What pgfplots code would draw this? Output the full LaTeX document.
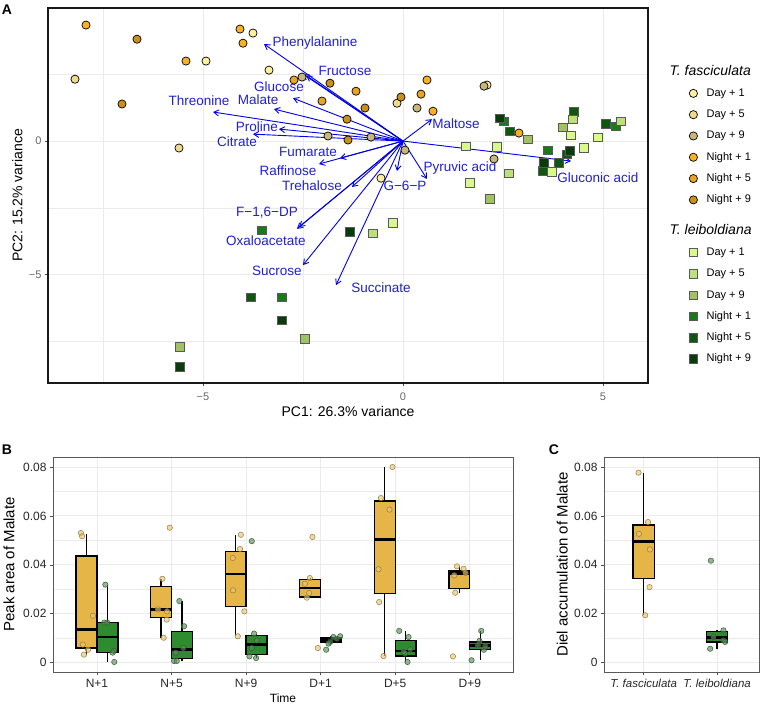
\documentclass[border=0pt]{standalone}
\usepackage{pgfplots}
\pgfplotsset{compat=1.18}
\usepgfplotslibrary{statistics}
\usetikzlibrary{arrows.meta}
\usepackage{fontspec}
\setmainfont{Liberation Sans}

\definecolor{gridc}{HTML}{EBEBEB}
\definecolor{tfDa}{HTML}{FFEF9E}
\definecolor{tfDb}{HTML}{F2DA8C}
\definecolor{tfDc}{HTML}{C8B67C}
\definecolor{tfNa}{HTML}{FAB11F}
\definecolor{tfNb}{HTML}{E8A520}
\definecolor{tfNc}{HTML}{C9901A}
\definecolor{tlDa}{HTML}{D9F98C}
\definecolor{tlDb}{HTML}{BEE07C}
\definecolor{tlDc}{HTML}{A0C263}
\definecolor{tlNa}{HTML}{187A18}
\definecolor{tlNb}{HTML}{0E570E}
\definecolor{tlNc}{HTML}{0A3B0A}
\definecolor{arrowc}{HTML}{0000E6}
\definecolor{labc}{HTML}{2020CC}
\definecolor{boxY}{HTML}{E6B548}
\definecolor{boxG}{HTML}{2E8B2E}
\definecolor{ptY}{HTML}{E2C77C}
\definecolor{ptYd}{HTML}{9C7A30}
\definecolor{ptG}{HTML}{5E8E5E}
\definecolor{ptGd}{HTML}{2E5A2E}

\tikzset{pcl/.style={font=\fontsize{13.5}{15}\selectfont, text=labc, inner sep=0pt}}
\pgfplotsset{
  circ/.style={only marks, mark=*, mark size=4.1pt, mark options={draw=black, line width=0.7pt, fill=#1}},
  sq/.style={only marks, mark=square*, mark size=4.2pt, mark options={draw=black!65, line width=0.7pt, fill=#1}},
  arr/.style={arrowc, line width=0.9pt, -{Straight Barb[length=5pt,width=6pt]}},
  ptYs/.style={only marks, mark=*, mark size=2.7pt, mark options={draw=ptYd, fill=ptY, fill opacity=0.65, draw opacity=0.85, line width=0.6pt}},
  ptGs/.style={only marks, mark=*, mark size=2.7pt, mark options={draw=ptGd, fill=ptG, fill opacity=0.65, draw opacity=0.85, line width=0.6pt}},
  bxY/.style={fill=boxY, draw=black, line width=1.4pt},
  bxG/.style={fill=boxG, draw=black, line width=1.4pt},
  boxstyle/.style={
    boxplot/draw direction=y,
    boxplot/whisker extend=0,
    boxplot/every box/.style={line width=1.4pt},
    boxplot/every whisker/.style={line width=1.4pt},
    boxplot/every median/.style={line width=2.6pt},
  },
}

\begin{document}
\begin{tikzpicture}[x=1pt,y=1pt]
\path[use as bounding box] (0,0) rectangle (760,706);

% ---------------- Panel A ----------------
\begin{axis}[
  at={(48pt,323pt)}, anchor=south west, scale only axis,
  width=600pt, height=375pt,
  xmin=-8.875, xmax=6.125, ymin=-9.07, ymax=4.99,
  xtick={-5,0,5}, xticklabels={−5,0,5},
  ytick={-5,0}, yticklabels={−5,0},
  minor xtick={-7.5,-2.5,2.5}, minor ytick={-7.5,-2.5,2.5},
  grid=both,
  major grid style={color=gridc, line width=0.9pt},
  minor grid style={color=gridc, line width=0.45pt},
  axis line style={black!90, line width=1.1pt},
  tick pos=left, tick align=outside, major tick length=3pt, minor tick length=0pt,
  tick style={black!70, line width=0.6pt},
  ticklabel style={font=\fontsize{11}{13}\selectfont, text=black!60},
  xticklabel style={yshift=-3pt},
  xlabel={PC1: 26.3\% variance}, ylabel={PC2: 15.2\% variance},
  every axis x label/.style={at={(axis description cs:0.5,-0.062)}, anchor=north, inner sep=0pt, font=\fontsize{14}{16}\selectfont},
  every axis y label/.style={at={(axis description cs:-0.042,0.5)}, rotate=90, anchor=south, inner sep=0pt, font=\fontsize{14}{16}\selectfont},
  clip=false,
  legend image code/.code={\draw[#1] plot coordinates {(5pt,0pt)};},
  legend style={at={(1.062,0.851)}, anchor=north west, draw=none, fill=none,
    font=\fontsize{11}{13}\selectfont, row sep=9.3pt,
    nodes={inner sep=1pt, text height=8pt, text depth=2pt},
    /tikz/every odd column/.append style={column sep=8pt}},
  legend cell align=left,
]
\addlegendimage{empty legend}
\addlegendentry{\hspace*{-37pt}{\fontsize{14}{16}\selectfont\textit{T. fasciculata}}}
\addplot[circ=tfDa] coordinates {(-4.925,3.0) (-3.75,4.05) (-3.35,2.66) (2.1,2.10) (-0.55,-1.39)};
\addlegendentry{Day + 1}
\addplot[circ=tfDb] coordinates {(-8.2,2.32) (-5.6,-0.26) (-0.15,1.42)};
\addlegendentry{Day + 5}
\addplot[circ=tfDc] coordinates {(-2.525,2.40) (-1.875,0.19) (-0.8,0.15) (0.35,1.24) (2.025,2.06) (0.05,-0.34) (2.275,-0.67)};
\addlegendentry{Day + 9}
\addplot[circ=tfNa] coordinates {(-7.925,4.35) (-5.425,3.0) (-4.075,4.2) (-4.0,3.67) (0.6,2.29) (0.75,1.12) (2.9,0.30)};
\addlegendentry{Night + 1}
\addplot[circ=tfNb] coordinates {(-2.725,2.29) (-1.175,1.87) (-2.025,1.50) (0.45,1.76)};
\addlegendentry{Night + 5}
\addplot[circ=tfNc] coordinates {(-6.65,3.82) (-7.025,1.39) (-1.825,2.17) (-0.95,1.24) (-1.4,0.82) (-1.375,0.04) (-0.05,1.65)};
\addlegendentry{Night + 9}
\addlegendimage{empty legend}
\addlegendentry[text height=18pt, text depth=2pt]{\hspace*{-37pt}{\fontsize{14}{16}\selectfont\textit{T. leiboldiana}}}
\addlegendimage{sq=tlDa}\addlegendentry{Day + 1}
\addlegendimage{sq=tlDb}\addlegendentry{Day + 5}
\addlegendimage{sq=tlDc}\addlegendentry{Day + 9}
\addlegendimage{sq=tlNa}\addlegendentry{Night + 1}
\addlegendimage{sq=tlNb}\addlegendentry{Night + 5}
\addlegendimage{sq=tlNc}\addlegendentry{Night + 9}
\addplot[sq=tlNa, forget plot] coordinates {(2.525,0.75) (3.625,-0.34) (5.325,0.56) (-3.525,-3.34) (-3.025,-5.85)};
\addplot[sq=tlNb, forget plot] coordinates {(2.675,0.37) (4.275,1.09) (4.1,-0.49) (3.9,-0.82) (3.5,-1.12) (5.075,0.64) (-3.8,-5.85)};
\addplot[sq=tlNc, forget plot] coordinates {(2.425,0.86) (4.175,-0.37) (3.525,-0.82) (-1.325,-3.41) (-3.025,-6.71) (-5.575,-8.47)};
\addplot[sq=tlDc, forget plot] coordinates {(2.175,-2.17) (3.125,0.07) (4.0,0.52) (-2.45,-7.42) (-5.575,-7.72)};
\addplot[sq=tlDb, forget plot] coordinates {(2.65,-1.2) (4.25,0.82) (5.45,0.75) (-0.75,-3.45)};
\addplot[sq=tlDa, forget plot] coordinates {(1.575,-0.19) (2.35,-0.22) (1.675,-1.57) (4.2,0.22) (3.725,-1.16) (4.525,-0.26) (4.875,0.15) (-0.25,-3.07)};

% arrows
\addplot[arr, forget plot] coordinates {(0,0) (-3.475,3.64)};
\addplot[arr, forget plot] coordinates {(0,0) (-2.5,2.51)};
\addplot[arr, forget plot] coordinates {(0,0) (-2.42,2.46)};
\addplot[arr, forget plot] coordinates {(0,0) (-2.75,1.61)};
\addplot[arr, forget plot] coordinates {(0,0) (-3.225,1.2)};
\addplot[arr, forget plot] coordinates {(0,0) (-4.75,1.09)};
\addplot[arr, forget plot] coordinates {(0,0) (-3.1,0.45)};
\addplot[arr, forget plot] coordinates {(0,0) (-3.75,0.26)};
\addplot[arr, forget plot] coordinates {(0,0) (-1.575,-0.64)};
\addplot[arr, forget plot] coordinates {(0,0) (-2.1,-0.86)};
\addplot[arr, forget plot] coordinates {(0,0) (-1.275,-1.72)};
\addplot[arr, forget plot] coordinates {(0,0) (-2.6,-3.22)};
\addplot[arr, forget plot] coordinates {(0,0) (-2.65,-3.29)};
\addplot[arr, forget plot] coordinates {(0,0) (-2.5,-4.65)};
\addplot[arr, forget plot] coordinates {(0,0) (-1.675,-5.4)};
\addplot[arr, forget plot] coordinates {(0,0) (-0.15,-1.12)};
\addplot[arr, forget plot] coordinates {(0,0) (0.6,-1.42)};
\addplot[arr, forget plot] coordinates {(0,0) (0.725,0.82)};
\addplot[arr, forget plot] coordinates {(0,0) (4.2,-0.75)};

\node[pcl] at (axis cs:-2.2,3.67) {Phenylalanine};
\node[pcl] at (axis cs:-1.45,2.62) {Fructose};
\node[pcl] at (axis cs:-3.1,2.03) {Glucose};
\node[pcl] at (axis cs:-3.62,1.55) {Malate};
\node[pcl] at (axis cs:-5.1,1.5) {Threonine};
\node[pcl] at (axis cs:-3.65,0.53) {Proline};
\node[pcl] at (axis cs:-4.15,-0.03) {Citrate};
\node[pcl] at (axis cs:-2.375,-0.41) {Fumarate};
\node[pcl] at (axis cs:-2.875,-1.12) {Raffinose};
\node[pcl] at (axis cs:-2.275,-1.69) {Trehalose};
\node[pcl] at (axis cs:-3.4,-2.7) {F−1,6−DP};
\node[pcl] at (axis cs:-3.43,-3.75) {Oxaloacetate};
\node[pcl] at (axis cs:-3.15,-4.87) {Sucrose};
\node[pcl] at (axis cs:-0.55,-5.5) {Succinate};
\node[pcl] at (axis cs:0.05,-1.69) {G−6−P};
\node[pcl] at (axis cs:1.425,-1.01) {Pyruvic acid};
\node[pcl] at (axis cs:1.325,0.67) {Maltose};
\node[pcl] at (axis cs:4.875,-1.39) {Gluconic acid};
\end{axis}

% ---------------- Panel B ----------------
\begin{axis}[
  at={(53pt,34pt)}, anchor=south west, scale only axis,
  width=460pt, height=215pt,
  xmin=0.41, xmax=6.58, ymin=-0.0038, ymax=0.0841,
  xtick={1,2,3,4,5,6}, xticklabels={N+1,N+5,N+9,D+1,D+5,D+9},
  ytick={0,0.02,0.04,0.06,0.08}, yticklabels={0,0.02,0.04,0.06,0.08},
  scaled y ticks=false,
  minor ytick={0.01,0.03,0.05,0.07},
  grid=both,
  major grid style={color=gridc, line width=0.9pt},
  minor grid style={color=gridc, line width=0.45pt},
  axis line style={black!65, line width=0.9pt},
  tick pos=left, tick align=outside, major tick length=3pt, minor tick length=0pt,
  tick style={black!70, line width=0.6pt},
  ticklabel style={font=\fontsize{12}{14}\selectfont, text=black!85},
  xticklabel style={yshift=-1pt},
  xlabel={Time}, ylabel={Peak area of Malate},
  every axis x label/.style={at={(axis description cs:0.5,-0.1)}, anchor=north, inner sep=0pt, font=\fontsize{12}{14}\selectfont},
  every axis y label/.style={at={(axis description cs:-0.083,0.5)}, rotate=90, anchor=south, inner sep=0pt, font=\fontsize{15}{17}\selectfont},
  boxstyle,
]
\addplot[bxY, boxplot prepared={draw position=0.86, box extend=0.28, median=0.0135, upper quartile=0.0436, lower quartile=0.006, upper whisker=0.0525, lower whisker=0.0033}] coordinates {};
\addplot[bxG, boxplot prepared={draw position=1.14, box extend=0.28, median=0.0105, upper quartile=0.0164, lower quartile=0.0041, upper whisker=0.0319, lower whisker=0.0003}] coordinates {};
\addplot[bxY, boxplot prepared={draw position=1.86, box extend=0.28, median=0.0218, upper quartile=0.0312, lower quartile=0.0184, upper whisker=0.0343, lower whisker=0.0102}] coordinates {};
\addplot[bxG, boxplot prepared={draw position=2.14, box extend=0.28, median=0.0055, upper quartile=0.0128, lower quartile=0.0016, upper whisker=0.0252, lower whisker=0.0007}] coordinates {};
\addplot[bxY, boxplot prepared={draw position=2.86, box extend=0.28, median=0.0363, upper quartile=0.0455, lower quartile=0.023, upper whisker=0.0523, lower whisker=0.0108}] coordinates {};
\addplot[bxG, boxplot prepared={draw position=3.14, box extend=0.28, median=0.0075, upper quartile=0.0112, lower quartile=0.0033, upper whisker=0.0119, lower whisker=0.0019}] coordinates {};
\addplot[bxY, boxplot prepared={draw position=3.86, box extend=0.28, median=0.0305, upper quartile=0.0339, lower quartile=0.0269, upper whisker=0.0346, lower whisker=0.0266}] coordinates {};
\addplot[bxG, boxplot prepared={draw position=4.14, box extend=0.28, median=0.0091, upper quartile=0.0101, lower quartile=0.0082, upper whisker=0.0108, lower whisker=0.0078}] coordinates {};
\addplot[bxY, boxplot prepared={draw position=4.86, box extend=0.28, median=0.0503, upper quartile=0.0661, lower quartile=0.0282, upper whisker=0.08, lower whisker=0.0027}] coordinates {};
\addplot[bxG, boxplot prepared={draw position=5.14, box extend=0.28, median=0.0048, upper quartile=0.0091, lower quartile=0.0027, upper whisker=0.013, lower whisker=0.0003}] coordinates {};
\addplot[bxY, boxplot prepared={draw position=5.86, box extend=0.28, median=0.0364, upper quartile=0.0375, lower quartile=0.0303, upper whisker=0.0394, lower whisker=0.0286}] coordinates {};
\addplot[bxG, boxplot prepared={draw position=6.14, box extend=0.28, median=0.0071, upper quartile=0.0085, lower quartile=0.0053, upper whisker=0.013, lower whisker=0.001}] coordinates {};

\addplot[ptYs] coordinates {
 (0.785,0.053) (0.80,0.0517) (0.946,0.0192) (0.81,0.0074) (0.88,0.0053) (0.825,0.0033)
 (1.976,0.0552) (1.877,0.0343) (1.819,0.0218) (1.94,0.021) (1.935,0.0176) (1.895,0.0102)
 (2.929,0.0523) (2.919,0.0465) (2.821,0.0428) (2.825,0.0296) (2.977,0.021) (2.888,0.0108)
 (3.89,0.0514) (3.855,0.0346) (3.79,0.0323) (3.846,0.0285) (3.815,0.0266) (3.962,0.006)
 (4.964,0.08) (4.808,0.0673) (4.923,0.0626) (4.776,0.0382) (4.785,0.0248) (4.843,0.0027)
 (5.828,0.0394) (5.917,0.0384) (5.792,0.0357) (5.944,0.0367) (5.805,0.0286) (5.774,0.0026)};
\addplot[ptGs] coordinates {
 (1.112,0.0319) (1.098,0.0164) (1.138,0.0164) (1.228,0.0048) (1.21,0.0041) (1.232,0.0003)
 (2.105,0.0252) (2.168,0.0149) (2.158,0.006) (2.056,0.0041) (2.034,0.0007) (2.07,0.0007)
 (3.076,0.0497) (3.107,0.0119) (3.143,0.0091) (3.076,0.006) (3.045,0.0026) (3.134,0.0019)
 (4.074,0.0053) (4.17,0.0105) (4.128,0.0085) (4.217,0.0098) (4.262,0.0108) (4.105,0.0078)
 (5.054,0.013) (5.179,0.0105) (5.201,0.0055) (5.134,0.0037) (5.165,0.0003) (5.112,0.0044)
 (6.154,0.013) (6.131,0.0089) (6.109,0.0071) (6.19,0.0053) (6.024,0.001) (6.208,0.0067)};
\end{axis}

% ---------------- Panel C ----------------
\begin{axis}[
  at={(604pt,34pt)}, anchor=south west, scale only axis,
  width=155pt, height=215pt,
  xmin=0.46, xmax=2.57, ymin=-0.0038, ymax=0.0841,
  xtick={1,2}, xticklabels={\textit{T. fasciculata},\textit{T. leiboldiana}},
  ytick={0,0.02,0.04,0.06,0.08}, yticklabels={0,0.02,0.04,0.06,0.08},
  scaled y ticks=false,
  minor ytick={0.01,0.03,0.05,0.07},
  grid=both,
  major grid style={color=gridc, line width=0.9pt},
  minor grid style={color=gridc, line width=0.45pt},
  axis line style={black!65, line width=0.9pt},
  tick pos=left, tick align=outside, major tick length=3pt, minor tick length=0pt,
  tick style={black!70, line width=0.6pt},
  ticklabel style={font=\fontsize{12}{14}\selectfont, text=black!85},
  xticklabel style={yshift=-1pt, font=\fontsize{11.5}{13}\selectfont},
  ylabel={Diel accumulation of Malate},
  every axis y label/.style={at={(axis description cs:-0.232,0.5)}, rotate=90, anchor=south, inner sep=0pt, font=\fontsize{15}{17}\selectfont},
  boxstyle,
]
\addplot[bxY, boxplot prepared={draw position=1, box extend=0.29, median=0.0496, upper quartile=0.0563, lower quartile=0.0345, upper whisker=0.0777, lower whisker=0.0194}] coordinates {};
\addplot[bxG, boxplot prepared={draw position=2, box extend=0.29, median=0.0104, upper quartile=0.0128, lower quartile=0.0085, upper whisker=0.0132, lower whisker=0.0057}] coordinates {};
\addplot[ptYs] coordinates {(0.93,0.0777) (1.06,0.0575) (0.935,0.0527) (1.084,0.0463) (1.08,0.0309) (1.02,0.0194)};
\addplot[ptGs] coordinates {(1.915,0.0417) (2.086,0.0132) (1.905,0.0057) (2.086,0.0091) (1.95,0.0105) (2.109,0.0085)};
\end{axis}

\node[font=\bfseries\fontsize{14}{16}\selectfont] at (7,696) {A};
\node[font=\bfseries\fontsize{14}{16}\selectfont] at (7,256) {B};
\node[font=\bfseries\fontsize{14}{16}\selectfont] at (554,256) {C};
\end{tikzpicture}
\end{document}
